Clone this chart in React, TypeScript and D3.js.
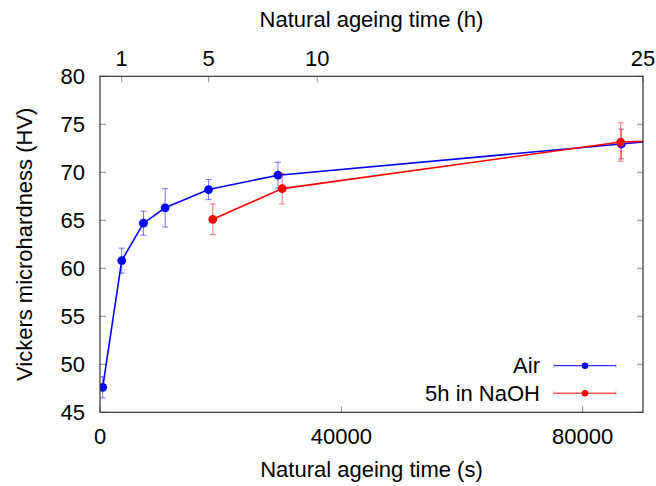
import React from "react";
import * as d3 from "d3";

// ---- data (time in seconds, microhardness in HV) ----
const airTime = [450, 3600, 7200, 10800, 18000, 29500, 86400, 172800];
const airHV = [47.6, 60.8, 64.7, 66.3, 68.2, 69.7, 72.95, 77.8];
const airErr = [1.1, 1.3, 1.25, 2.0, 1.05, 1.35, 1.55, 0];

const naohTime = [18700, 30200, 86300, 172800];
const naohHV = [65.1, 68.3, 73.15, 74.8];
const naohErr = [1.6, 1.6, 2.0, 0];

const xTicksSeconds = [0, 40000, 80000];
const xTicksHours = [1, 5, 10, 25];
const yTicks = [45, 50, 55, 60, 65, 70, 75, 80];

const seriesNames = ["Air", "5h in NaOH"];
const seriesColors = ["#0000ff", "#ff0000"];

const W = 656;
const H = 486;
const M = { left: 100, right: 643, top: 76.3, bottom: 412.3 };
const FONT = "'Liberation Sans', Arial, Helvetica, sans-serif";

export default function App() {
  const x = d3.scaleLinear().domain([0, 90000]).range([M.left, M.right]);
  const y = d3.scaleLinear().domain([45, 80]).range([M.bottom, M.top]);
  const line = d3
    .line<[number, number]>()
    .x((d) => x(d[0]))
    .y((d) => y(d[1]));

  const series = [
    { t: airTime, v: airHV, e: airErr },
    { t: naohTime, v: naohHV, e: naohErr },
  ];

  const inRange = (t: number) => t >= 0 && t <= 90000;

  return (
    <svg
      width={W}
      height={H}
      style={{ position: "absolute", left: 0, top: 0, background: "#fff" }}
      fontFamily={FONT}
    >
      <defs>
        <clipPath id="plotClip">
          <rect x={M.left} y={M.top} width={M.right - M.left} height={M.bottom - M.top} />
        </clipPath>
      </defs>
      <rect x={0} y={0} width={W} height={H} fill="#fff" />

      {/* y ticks (left and right, inward) */}
      {yTicks.map((v) => (
        <g key={"y" + v}>
          <line x1={M.left} x2={M.left + 6} y1={y(v)} y2={y(v)} stroke="#888" strokeWidth={1} />
          <line x1={M.right} x2={M.right - 6} y1={y(v)} y2={y(v)} stroke="#888" strokeWidth={1} />
          <text x={85} y={y(v) + 8} textAnchor="end" fontSize={22} fill="#000">
            {v}
          </text>
        </g>
      ))}

      {/* bottom ticks */}
      {xTicksSeconds.map((t) => (
        <g key={"xs" + t}>
          <line x1={x(t)} x2={x(t)} y1={M.bottom} y2={M.bottom - 6} stroke="#888" strokeWidth={1} />
          <text x={x(t)} y={444} textAnchor="middle" fontSize={22} fill="#000">
            {t}
          </text>
        </g>
      ))}

      {/* top ticks (hours) */}
      {xTicksHours.map((h) => (
        <g key={"xh" + h}>
          <line x1={x(h * 3600)} x2={x(h * 3600)} y1={M.top} y2={M.top + 6} stroke="#888" strokeWidth={1} />
          <text x={x(h * 3600)} y={66} textAnchor="middle" fontSize={22} fill="#000">
            {h}
          </text>
        </g>
      ))}

      {/* series */}
      {series.map((s, i) => {
        const pts = s.t.map((t, j) => [t, s.v[j]] as [number, number]);
        const c = seriesColors[i];
        return (
          <g key={"s" + i} clipPath="url(#plotClip)">
            {s.t.map((t, j) =>
              inRange(t) && s.e[j] > 0 ? (
                <g key={"e" + j} stroke={c} strokeWidth={1} strokeOpacity={0.55}>
                  <line x1={x(t)} x2={x(t)} y1={y(s.v[j] - s.e[j])} y2={y(s.v[j] + s.e[j])} />
                  <line x1={x(t) - 3} x2={x(t) + 3} y1={y(s.v[j] - s.e[j])} y2={y(s.v[j] - s.e[j])} />
                  <line x1={x(t) - 3} x2={x(t) + 3} y1={y(s.v[j] + s.e[j])} y2={y(s.v[j] + s.e[j])} />
                </g>
              ) : null
            )}
            <path d={line(pts) || ""} fill="none" stroke={c} strokeWidth={1.6} />
            {s.t.map((t, j) =>
              inRange(t) ? <circle key={"p" + j} cx={x(t)} cy={y(s.v[j])} r={4.4} fill={c} /> : null
            )}
          </g>
        );
      })}

      {/* border */}
      <rect
        x={M.left}
        y={M.top}
        width={M.right - M.left}
        height={M.bottom - M.top}
        fill="none"
        stroke="#333"
        strokeWidth={1.2}
      />

      {/* legend */}
      {seriesNames.map((n, i) => {
        const ly = 365.7 + i * 27.5;
        const c = seriesColors[i];
        return (
          <g key={"l" + i}>
            <text x={540} y={ly + 7.5} textAnchor="end" fontSize={22} fill="#000">
              {n}
            </text>
            <line x1={554} x2={616} y1={ly} y2={ly} stroke={c} strokeWidth={1} />
            <line x1={554} x2={554} y1={ly - 2.5} y2={ly + 2.5} stroke={c} strokeWidth={1} strokeOpacity={0.3} />
            <line x1={616} x2={616} y1={ly - 2.5} y2={ly + 2.5} stroke={c} strokeWidth={1} strokeOpacity={0.3} />
            <circle cx={585} cy={ly} r={3.3} fill={c} />
          </g>
        );
      })}

      {/* axis titles */}
      <text x={(M.left + M.right) / 2} y={477} textAnchor="middle" fontSize={22} fill="#000">
        Natural ageing time (s)
      </text>
      <text x={(M.left + M.right) / 2} y={27} textAnchor="middle" fontSize={22} fill="#000">
        Natural ageing time (h)
      </text>
      <text
        transform={`translate(32, ${(M.top + M.bottom) / 2}) rotate(-90)`}
        textAnchor="middle"
        fontSize={22}
        fill="#000"
      >
        Vickers microhardness (HV)
      </text>
    </svg>
  );
}
